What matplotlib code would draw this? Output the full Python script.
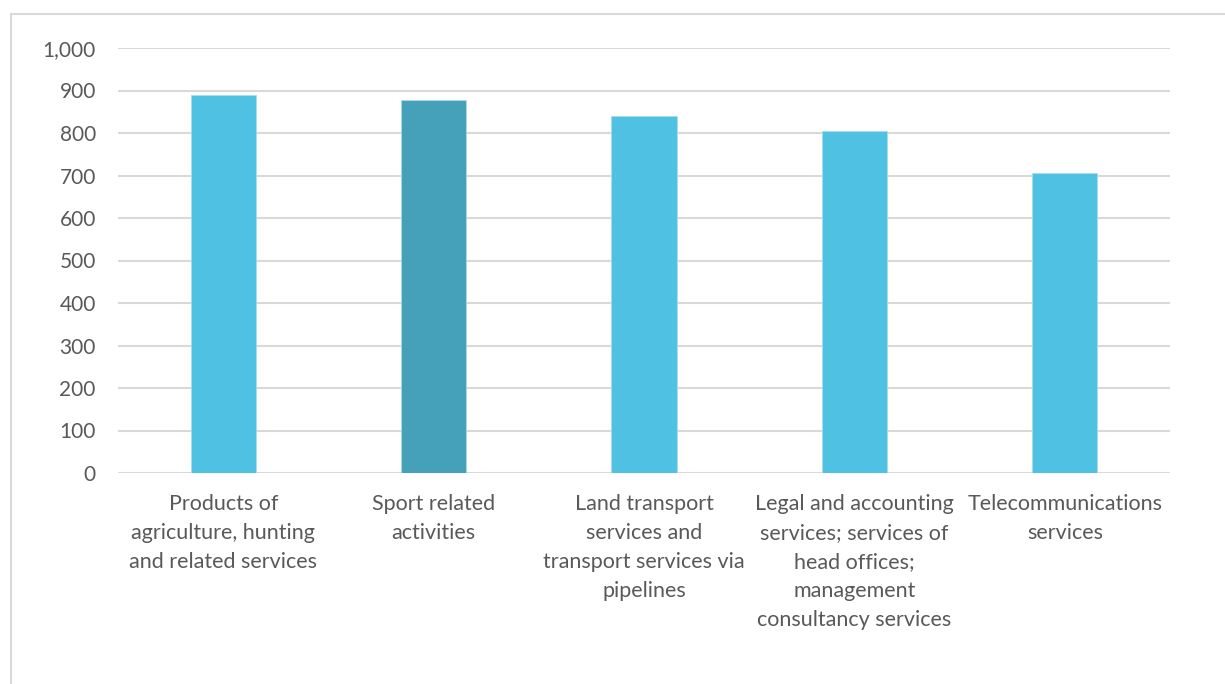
import matplotlib.pyplot as plt
from matplotlib.patches import Rectangle
from matplotlib.ticker import FuncFormatter

# Дані
categories = [
    'Products of\nagriculture, hunting\nand related services',
    'Sport related\nactivities',
    'Land transport\nservices and\ntransport services via\npipelines',
    'Legal and accounting\nservices; services of\nhead offices;\nmanagement\nconsultancy services',
    'Telecommunications\nservices',
]
values = [889, 878, 840, 805, 706]
colors = ['#4FC1E3', '#45A1B9', '#4FC1E3', '#4FC1E3', '#4FC1E3']

plt.rcParams['font.family'] = ['Lato', 'DejaVu Sans']

fig = plt.figure(figsize=(12.25, 6.84), dpi=100)
ax = fig.add_axes([118 / 1225, 1 - 473 / 684, (1170 - 118) / 1225, (473 - 48) / 684])

# Рамка навколо графіка
fig.patches.append(Rectangle((11 / 1225, -0.1), 1.2, 1 - 14 / 684 + 0.1,
                             transform=fig.transFigure, fill=False,
                             edgecolor='#D9D9D9', linewidth=1.5))

x = range(len(values))
ax.bar(x, values, width=0.31, color=colors, edgecolor='#A9DDF0', linewidth=0.6, zorder=3)

ax.set_xlim(-0.5, len(values) - 0.5)
ax.set_ylim(0, 1000)
ax.set_yticks(range(0, 1001, 100))
ax.yaxis.set_major_formatter(FuncFormatter(lambda v, p: f'{int(v):,}'))
ax.set_xticks(list(x))
ax.set_xticklabels(categories, linespacing=1.56, fontsize=15.5)

ax.grid(axis='y', color='#D9D9D9', linewidth=1.5, zorder=0)
for s in ax.spines.values():
    s.set_visible(False)
ax.tick_params(axis='both', length=0, colors='#595959')
ax.tick_params(axis='x', pad=15)
ax.tick_params(axis='y', pad=16, labelsize=15)

fig.savefig('out.png', dpi=100)
